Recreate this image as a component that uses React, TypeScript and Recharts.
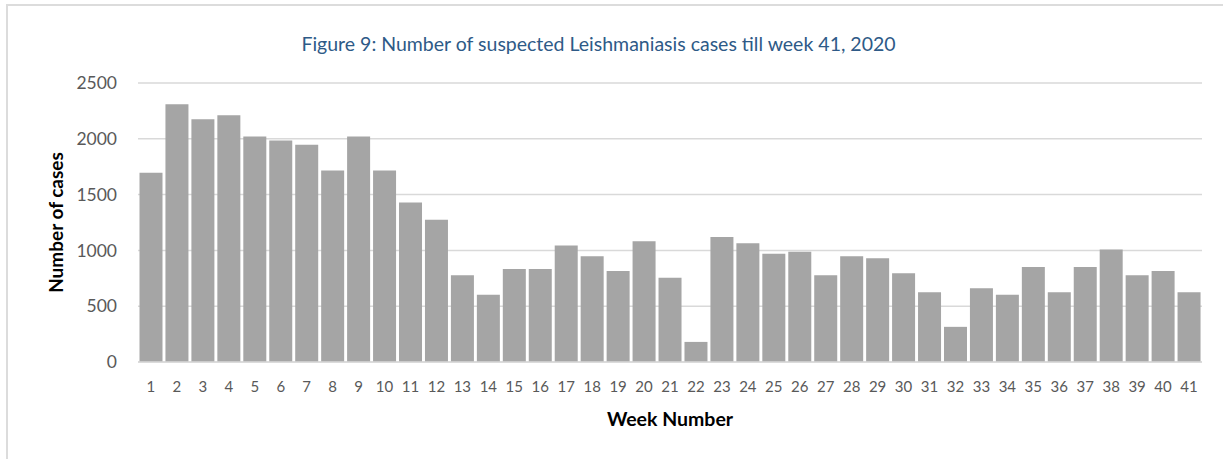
import { BarChart, Bar, XAxis, YAxis, CartesianGrid, Label } from "recharts";

const weeks = [
  "1", "2", "3", "4", "5", "6", "7", "8", "9", "10",
  "11", "12", "13", "14", "15", "16", "17", "18", "19", "20",
  "21", "22", "23", "24", "25", "26", "27", "28", "29", "30",
  "31", "32", "33", "34", "35", "36", "37", "38", "39", "40", "41",
];

const cases = [
  1695, 2310, 2175, 2212, 2020, 1985, 1946, 1715, 2020, 1715,
  1430, 1274, 777, 603, 834, 834, 1043, 948, 816, 1083,
  755, 180, 1121, 1065, 969, 987, 777, 948, 930, 795,
  624, 315, 660, 603, 852, 624, 852, 1007, 777, 816, 624,
];

const yTicks = [0, 500, 1000, 1500, 2000, 2500];

const data = weeks.map((w, i) => ({ week: w, cases: cases[i] }));

const font = "Lato, 'Open Sans', sans-serif";

function YTitle(props: any) {
  const vb = props.viewBox || {};
  const cx = 55.5;
  const cy = (vb.y ?? 83) + (vb.height ?? 279) / 2;
  return (
    <text
      x={cx}
      y={cy}
      transform={`rotate(-90 ${cx} ${cy})`}
      textAnchor="middle"
      dominantBaseline="central"
      fill="#000"
      fontSize={19}
      fontWeight={700}
      fontFamily={font}
    >
      Number of cases
    </text>
  );
}

export default function App() {
  return (
    <div
      style={{
        position: "absolute",
        left: 0,
        top: 0,
        width: 1223,
        height: 459,
        overflow: "hidden",
        background: "#fff",
        fontFamily: font,
      }}
    >
      <div
        style={{
          position: "absolute",
          left: 6,
          top: 4,
          width: 1240,
          height: 480,
          border: "2px solid #DCDCDC",
          boxSizing: "border-box",
        }}
      />
      <div
        style={{
          position: "absolute",
          left: 0,
          top: 32,
          width: 1197,
          textAlign: "center",
          fontSize: 19.5,
          color: "#2E5A87",
        }}
      >
        Figure 9: Number of suspected Leishmaniasis cases till week 41, 2020
      </div>
      <div style={{ position: "absolute", left: 0, top: 0 }}>
        <BarChart
          width={1223}
          height={459}
          data={data}
          margin={{ top: 83, right: 21, left: 78, bottom: 67 }}
          barCategoryGap={1.5}
        >
          <CartesianGrid vertical={false} stroke="#D9D9D9" strokeWidth={1.5} />
          <XAxis
            dataKey="week"
            height={30}
            tickLine={false}
            axisLine={{ stroke: "#D9D9D9", strokeWidth: 1.5 }}
            tickSize={0}
            tickMargin={19}
            interval={0}
            tick={{ fill: "#595959", fontSize: 15, fontFamily: font }}
          >
            <Label
              value="Week Number"
              position="bottom"
              offset={20}
              style={{ fill: "#000", fontSize: 19.5, fontWeight: 700, fontFamily: font }}
            />
          </XAxis>
          <YAxis
            width={60}
            domain={[0, 2500]}
            ticks={yTicks}
            tickLine={false}
            axisLine={false}
            tickSize={0}
            tickMargin={21}
            tick={{ fill: "#595959", fontSize: 17.5, fontFamily: font }}
          >
            <Label content={<YTitle />} />
          </YAxis>
          <Bar dataKey="cases" fill="#A5A5A5" isAnimationActive={false} />
        </BarChart>
      </div>
    </div>
  );
}
